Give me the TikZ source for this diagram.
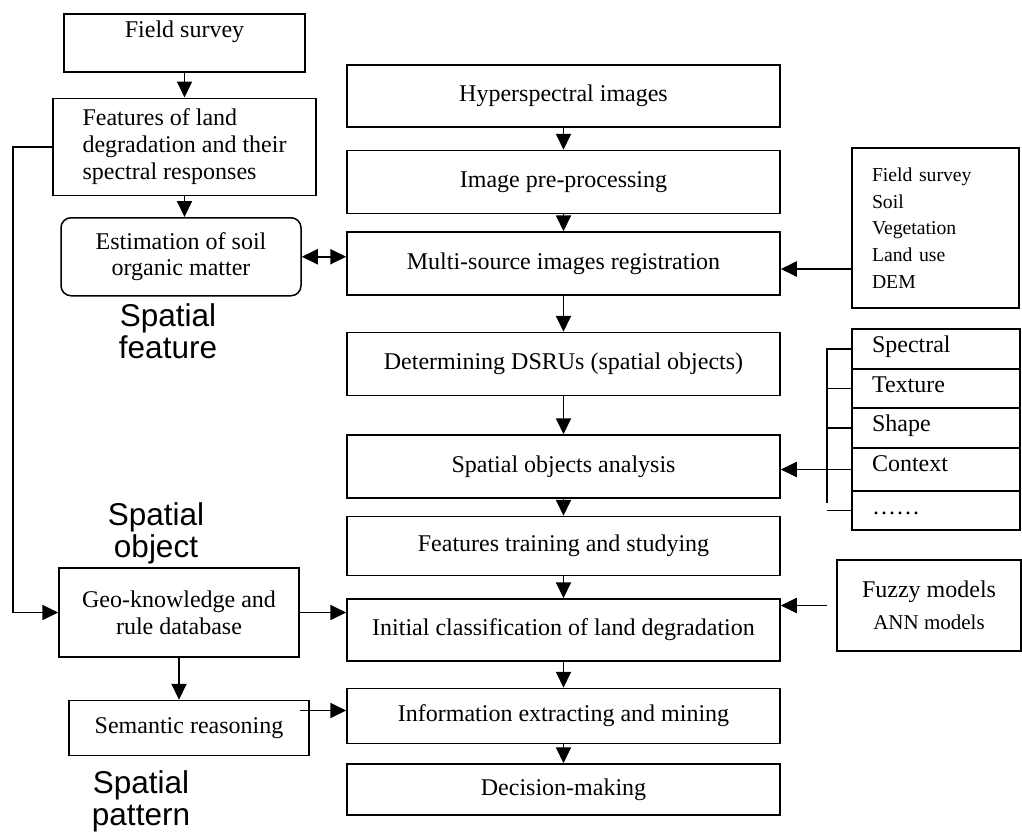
\documentclass[tikz,border=0pt]{standalone}
\usepackage{fontspec}
\setmainfont{Liberation Serif}
\newfontfamily\lblfont{Liberation Sans}
\usepackage{tikz}
\usetikzlibrary{shapes,arrows.meta,positioning,calc}
\tikzstyle{box}=[draw, line width=1.5pt, inner sep=0pt]
\tikzstyle{stage}=[box, minimum width=433pt]
\tikzstyle{cell}=[box, outer sep=0pt, minimum width=168pt, text width=128pt, align=left, text height=23.5pt]
\tikzstyle{arrow}=[draw, line width=1.9pt, -{Triangle[length=16pt,width=15pt]}]
\tikzstyle{both}=[draw, line width=1.9pt, {Triangle[length=16pt,width=15pt]}-{Triangle[length=16pt,width=15pt]}]
\tikzstyle{link}=[draw, line width=1.2pt]
\tikzstyle{sectitle}=[font=\lblfont\fontsize{31.5}{32}\selectfont, align=center, inner sep=0pt]

\begin{document}
\begin{tikzpicture}[x=1pt, y=-1pt, font=\fontsize{24}{26.7}\selectfont]
\useasboundingbox (0,0) rectangle (1022,833);

\node (hyper) [stage, minimum height=62pt] at (563.5,96) {Hyperspectral images};
\node (prep) [stage, minimum height=63pt, below=22pt of hyper] {Image pre-processing};
\node (multi) [stage, minimum height=63pt, below=17pt of prep] {Multi-source images registration};
\node (dsru) [stage, minimum height=63pt, below=36pt of multi] {Determining DSRUs (spatial objects)};
\node (spa) [stage, minimum height=63pt, below=38pt of dsru] {Spatial objects analysis};
\node (train) [stage, minimum height=59pt, below=17pt of spa] {Features training and studying};
\node (init) [stage, minimum height=62pt, below=22pt of train] {Initial classification of land degradation};
\node (info) [stage, minimum height=55pt, below=26pt of init] {Information extracting and mining};
\node (dec) [stage, minimum height=51pt, below=19pt of info] {Decision-making};

\node (fs) [box, anchor=north, minimum width=241pt, text height=24pt, text depth=34pt] at (184.5,13) {Field survey};
\node (feat) [box, minimum width=263pt, minimum height=97pt, align=left, below=25pt of fs] {Features of land\\degradation and their\\spectral responses};
\node (est) [box, rounded corners=10pt, minimum width=240pt, minimum height=78pt, align=center, below=21pt of feat, xshift=-3.5pt] {Estimation of soil\\organic matter};
\node (geo) [box, minimum width=240pt, minimum height=89pt, align=center] at (179,612.5) {Geo-knowledge and\\rule database};
\node (sem) [box, minimum width=240pt, minimum height=55pt, below=42pt of geo, xshift=10pt] {Semantic reasoning};

\node (src) [box, minimum width=167pt, minimum height=160pt, text width=127pt, align=left, font=\fontsize{19.7}{26.75}\selectfont] at (935.5,228) {Field survey\\Soil\\Vegetation\\Land use\\DEM};
\node (spec) [cell, anchor=north west, text depth=16.5pt] at (852,329) {Spectral};
\node (tex) [cell, text depth=15.5pt, below=0pt of spec] {Texture};
\node (shp) [cell, text depth=16.5pt, below=0pt of tex] {Shape};
\node (ctx) [cell, text depth=19.5pt, below=0pt of shp] {Context};
\node (dots) [cell, text depth=15.5pt, below=0pt of ctx] {……};
\node (fuzzy) [box, minimum width=184pt, minimum height=91pt, align=center] at (929,605.5) {Fuzzy models\\[5pt]{\fontsize{21}{26}\selectfont ANN models}};

\node (lblfeat) [sectitle, anchor=north] at (168,303) {Spatial\\feature};
\node (lblobj) [sectitle, anchor=north] at (156,502) {Spatial\\object};
\node (lblpat) [sectitle, anchor=north] at (141,770) {Spatial\\pattern};

\foreach \a/\b in {hyper/prep, prep/multi, multi/dsru, dsru/spa, spa/train, train/init, init/info, info/dec}
  \draw [arrow] (\a) -- (\b);

\draw [arrow] (fs) -- (feat);
\draw [arrow] (feat) -- (feat |- est.north);
\draw [both] (est.east) -- (est.east -| multi.west);
\draw [arrow] (feat.west) -- ++(-39,0) |- (geo.west);
\draw [arrow] (geo.east) -- (geo.east -| init.west);
\draw [arrow] (geo.south) -- (geo.south |- sem.north);
\draw [arrow] ([xshift=-10pt,yshift=17.5pt]sem.east) -- ([yshift=17.5pt]sem.east -| info.west);
\draw [arrow] ([yshift=-41pt]src.west) -- ([yshift=-41pt]src.west -| multi.east);
\draw [arrow] ([xshift=-9pt]fuzzy.west) -- (fuzzy.west -| init.east);

\coordinate (brtop) at ([xshift=-25pt]spec.west);
\coordinate (brbot) at ([xshift=-25pt,yshift=-33.5pt]ctx.west);
\draw [link] (spec.west) -- (brtop) -- (brbot);
\foreach \r in {tex, shp, ctx, dots}
  \draw [link] (\r.west) -- (\r.west -| brtop);
\draw [line width=2.4pt] (ctx.south west) -- (ctx.south east);
\draw [arrow] (ctx.west -| brtop) -- (ctx.west -| spa.east);

\end{tikzpicture}
\end{document}
